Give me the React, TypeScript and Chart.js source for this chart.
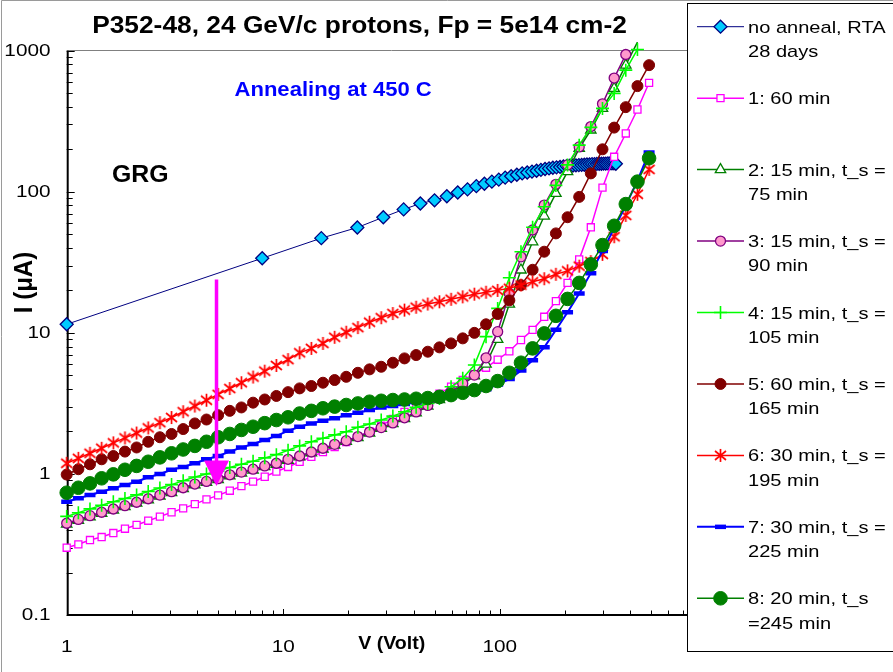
import React, { useEffect, useRef } from 'react';
import { Chart, registerables } from 'chart.js';
import { drawPoint } from 'chart.js/helpers';

Chart.register(...registerables);

const TITLE = 'P352-48, 24 GeV/c protons, Fp = 5e14 cm-2';
const X_TITLE = 'V (Volt)';
const Y_TITLE = 'I (\u03bcA)';
const NOTE_GRG = 'GRG';
const NOTE_ANNEAL = 'Annealing at 450 C';

const xTickValues = [1, 10, 100];
const xTickLabels = ['1', '10', '100'];
const yTickValues = [0.1, 1, 10, 100, 1000];
const yTickLabels = ['0.1', '1', '10', '100', '1000'];

// no anneal (linear voltage steps)
const vNoAnneal = [1, 8, 15, 22, 29, 36, 43, 50, 57, 64, 71, 78, 85, 92, 99, 106, 113, 120, 127, 134, 141, 148, 155, 162, 169, 176, 183, 190, 197, 204, 211, 218, 225, 232, 239, 246, 253, 260, 267, 274, 281, 288, 295, 302, 309, 316, 323, 330, 337, 344];
const iNoAnneal = [11.5, 33.8, 46.9, 55.8, 66, 75, 82.6, 87, 93, 98.8, 104, 109.6, 114, 118, 122, 126, 129, 132, 135, 137, 139, 141, 143, 145, 146.5, 148, 149, 150, 151, 152, 153, 153.5, 154, 154.5, 155, 155.5, 156, 156.5, 157, 157, 157.5, 158, 158, 158.5, 158.5, 159, 159, 159, 159, 158];

// annealed steps (log-spaced voltage sweep)
const vSweep = [1, 1.132, 1.281, 1.45, 1.642, 1.858, 2.103, 2.38, 2.694, 3.05, 3.451, 3.907, 4.422, 5.005, 5.666, 6.412, 7.258, 8.216, 9.299, 10.53, 11.91, 13.49, 15.26, 17.28, 19.55, 22.13, 25.05, 28.36, 32.1, 36.33, 41.11, 46.54, 52.68, 59.62, 67.49, 76.38, 86.47, 97.86, 110.8, 125.4, 141.9, 160.6, 181.8, 205.8, 232.9, 263.6, 298.4, 337.8, 382.3, 432.8, 489.8];

const i60min = [0.30, 0.317, 0.34, 0.357, 0.381, 0.409, 0.435, 0.466, 0.498, 0.535, 0.57, 0.611, 0.66, 0.705, 0.76, 0.82, 0.881, 0.955, 1.04, 1.12, 1.22, 1.32, 1.43, 1.55, 1.68, 1.83, 2.0, 2.2, 2.45, 2.75, 3.0, 3.3, 3.7, 4.15, 4.63, 5.1, 5.66, 6.45, 7.4, 8.9, 10.5, 13.0, 16.8, 22.6, 33.2, 56, 107, 177, 259, 383, 592];
const i75min = [0.44, 0.468, 0.497, 0.526, 0.555, 0.586, 0.62, 0.656, 0.697, 0.737, 0.786, 0.835, 0.871, 0.911, 0.971, 1.015, 1.065, 1.125, 1.17, 1.25, 1.32, 1.41, 1.5, 1.6, 1.7, 1.81, 1.95, 2.1, 2.27, 2.47, 2.71, 3.02, 3.37, 3.78, 4.3, 4.95, 6.0, 9.0, 16, 27.9, 44.2, 67.3, 97.4, 139, 203, 274, 390, 541, 790, 1150];
const i90min = [0.447, 0.476, 0.506, 0.535, 0.564, 0.596, 0.63, 0.667, 0.708, 0.748, 0.798, 0.848, 0.885, 0.925, 0.986, 1.03, 1.08, 1.14, 1.19, 1.27, 1.34, 1.43, 1.52, 1.62, 1.72, 1.84, 1.98, 2.13, 2.3, 2.5, 2.75, 3.06, 3.42, 3.83, 4.38, 5.02, 6.65, 10.2, 19, 34.6, 53.6, 80.5, 113, 155, 208, 290, 420, 640, 940];
const i105min = [0.50, 0.53, 0.565, 0.60, 0.635, 0.67, 0.71, 0.75, 0.795, 0.84, 0.895, 0.95, 1.0, 1.05, 1.11, 1.17, 1.23, 1.30, 1.37, 1.47, 1.58, 1.69, 1.79, 1.89, 1.99, 2.14, 2.26, 2.41, 2.57, 2.76, 2.97, 3.16, 3.43, 4.15, 4.76, 5.91, 9.4, 14.9, 24.6, 37.6, 56, 78.3, 111, 155, 214, 286, 390, 498, 728, 1020];
const i165min = [0.99, 1.08, 1.17, 1.27, 1.34, 1.44, 1.54, 1.69, 1.82, 1.92, 2.08, 2.28, 2.43, 2.61, 2.80, 2.96, 3.20, 3.37, 3.57, 3.80, 4.04, 4.20, 4.43, 4.63, 4.88, 5.21, 5.51, 5.75, 6.14, 6.59, 6.96, 7.35, 7.89, 8.42, 9.14, 10.0, 11.5, 13.6, 17.0, 21.8, 28.0, 37.6, 50.7, 66, 92, 135, 200, 285, 398, 561, 790];
const i195min = [1.19, 1.29, 1.40, 1.52, 1.66, 1.80, 1.95, 2.12, 2.31, 2.51, 2.76, 3.03, 3.33, 3.66, 4.03, 4.43, 4.86, 5.35, 5.87, 6.46, 7.22, 7.76, 8.42, 9.3, 10.1, 10.9, 11.9, 12.8, 13.7, 14.5, 15.2, 16.0, 16.6, 17.3, 18.0, 18.8, 19.4, 20.0, 20.7, 21.8, 23.0, 24.2, 26.0, 27.5, 29.7, 32, 36, 48, 68, 96, 144];
const i225min = [0.635, 0.671, 0.708, 0.748, 0.791, 0.834, 0.881, 0.946, 0.998, 1.07, 1.12, 1.19, 1.27, 1.34, 1.44, 1.54, 1.63, 1.74, 1.86, 2.02, 2.16, 2.28, 2.38, 2.48, 2.61, 2.71, 2.84, 2.96, 3.03, 3.13, 3.22, 3.32, 3.42, 3.5, 3.62, 3.78, 3.98, 4.3, 4.7, 5.4, 6.4, 7.9, 10.5, 14, 19, 26.5, 38, 55, 80, 120, 190];
const i245min = [0.736, 0.798, 0.857, 0.931, 0.993, 1.07, 1.14, 1.22, 1.31, 1.40, 1.49, 1.58, 1.69, 1.82, 1.92, 2.05, 2.16, 2.29, 2.41, 2.52, 2.68, 2.80, 2.92, 3.0, 3.08, 3.16, 3.25, 3.30, 3.34, 3.37, 3.41, 3.45, 3.52, 3.62, 3.76, 3.93, 4.2, 4.55, 5.21, 6.14, 7.76, 9.91, 13.2, 17.4, 22.6, 30.6, 41.9, 57.4, 81.8, 118, 173];

const legendLabels = [
  ['no anneal, RTA', '28 days'],
  ['1: 60 min'],
  ['2: 15 min, t_s =', '75 min'],
  ['3: 15 min, t_s =', '90 min'],
  ['4: 15 min, t_s =', '105 min'],
  ['5: 60 min, t_s =', '165 min'],
  ['6: 30 min, t_s =', '195 min'],
  ['7: 30 min, t_s =', '225 min'],
  ['8: 20 min, t_s', '=245 min'],
];

// arrow annotation (data coordinates)
const arrowV = 4.92;
const arrowFromI = 23.9;
const arrowToI = 0.82;

const FONT = '"Liberation Sans", Arial, Helvetica, sans-serif';

function drawText(ctx: CanvasRenderingContext2D, s: string, x: number, y: number, size: number, bold: boolean, color: string, align: CanvasTextAlign, sx: number) {
  ctx.save();
  ctx.translate(x, y);
  ctx.scale(sx, 1);
  ctx.font = `${bold ? 'bold ' : ''}${size}px ${FONT}`;
  ctx.fillStyle = color;
  ctx.textAlign = align;
  ctx.textBaseline = 'alphabetic';
  ctx.fillText(s, 0, 0);
  ctx.restore();
}

function makeStar(color: string) {
  const c = document.createElement('canvas');
  c.width = 15;
  c.height = 15;
  const g = c.getContext('2d')!;
  g.strokeStyle = color;
  g.lineWidth = 1.7;
  const m = 7.5;
  g.beginPath();
  g.moveTo(m, 1);
  g.lineTo(m, 14);
  g.moveTo(2, 3);
  g.lineTo(13, 12);
  g.moveTo(2, 12);
  g.lineTo(13, 3);
  g.stroke();
  return c;
}

export default function App() {
  const ref = useRef<HTMLCanvasElement>(null);

  useEffect(() => {
    const canvas = ref.current;
    if (!canvas) return;
    const star = makeStar('#FF0000');

    const series: any[] = [
      { xs: vNoAnneal, ys: iNoAnneal, line: '#000080', lw: 1, style: 'rectRot', r: 6.5, fill: '#00CCFF', border: '#000080', bw: 1.3 },
      { xs: vSweep, ys: i60min, line: '#FF00FF', lw: 1.5, style: 'rect', r: 5, fill: '#FFFFFF', border: '#FF00FF', bw: 1.3 },
      { xs: vSweep, ys: i75min, line: '#008000', lw: 1.5, style: 'triangle', r: 6, fill: '#FFFFFF', border: '#008000', bw: 1.3 },
      { xs: vSweep, ys: i90min, line: '#800080', lw: 1.5, style: 'circle', r: 5, fill: '#FF99CC', border: '#800080', bw: 1.3 },
      { xs: vSweep, ys: i105min, line: '#00FF00', lw: 1.5, style: 'cross', r: 6.5, fill: '#00FF00', border: '#00FF00', bw: 1.6 },
      { xs: vSweep, ys: i165min, line: '#800000', lw: 1.5, style: 'circle', r: 5.5, fill: '#800000', border: '#800000', bw: 1 },
      { xs: vSweep, ys: i195min, line: '#FF0000', lw: 1.5, style: star, r: 7, fill: '#FF0000', border: '#FF0000', bw: 1.5 },
      { xs: vSweep, ys: i225min, line: '#0000FF', lw: 2, style: 'line', r: 5.5, fill: '#0000FF', border: '#0000FF', bw: 4.5 },
      { xs: vSweep, ys: i245min, line: '#008000', lw: 1.5, style: 'circle', r: 6.8, fill: '#008000', border: '#008000', bw: 1 },
    ];

    const decor = {
      id: 'decor',
      beforeDatasetsDraw(chart: any) {
        const ctx: CanvasRenderingContext2D = chart.ctx;
        const a = chart.chartArea;
        const xs = chart.scales.x;
        const ys = chart.scales.y;
        ctx.save();
        ctx.strokeStyle = '#9a9a9a';
        ctx.lineWidth = 1;
        ctx.beginPath();
        ctx.moveTo(1.5, 672);
        ctx.lineTo(1.5, 0.5);
        ctx.lineTo(893, 0.5);
        ctx.stroke();
        ctx.strokeStyle = '#808080';
        ctx.beginPath();
        ctx.moveTo(a.left, 50.5);
        ctx.lineTo(a.right, 50.5);
        ctx.stroke();
        ctx.strokeStyle = '#000';
        ctx.lineWidth = 1;
        ctx.beginPath();
        for (let d = -1; d <= 2; d++) {
          for (let m = 1; m <= 9; m++) {
            const v = m * Math.pow(10, d);
            const y = Math.round(ys.getPixelForValue(v)) + 0.5;
            const len = m === 1 ? 7 : 5;
            ctx.moveTo(a.left, y);
            ctx.lineTo(a.left + 1 + len, y);
          }
        }
        {
          const y = Math.round(ys.getPixelForValue(1000)) + 0.5;
          ctx.moveTo(a.left, y);
          ctx.lineTo(a.left + 8, y);
        }
        for (let d = 0; d <= 2; d++) {
          for (let m = 1; m <= 9; m++) {
            const v = m * Math.pow(10, d);
            const x = Math.round(xs.getPixelForValue(v)) + 0.5;
            const len = m === 1 ? 6 : 4.5;
            ctx.moveTo(x, a.bottom);
            ctx.lineTo(x, a.bottom - len);
          }
        }
        ctx.stroke();
        ctx.lineWidth = 2;
        ctx.beginPath();
        ctx.moveTo(a.left + 1, a.top);
        ctx.lineTo(a.left + 1, a.bottom + 1);
        ctx.moveTo(a.left, a.bottom);
        ctx.lineTo(a.right, a.bottom);
        ctx.stroke();
        yTickValues.forEach((v, i) => {
          const y = ys.getPixelForValue(v);
          drawText(ctx, yTickLabels[i], 50.5, y + 5, 17, false, '#000', 'right', 1.22);
        });
        xTickValues.forEach((v, i) => {
          const x = xs.getPixelForValue(v);
          drawText(ctx, xTickLabels[i], x, 652, 17, false, '#000', 'center', 1.22);
        });
        drawText(ctx, TITLE, 359.5, 32.5, 23.5, true, '#000', 'center', 1.12);
        drawText(ctx, X_TITLE, 391.7, 648.5, 17.5, true, '#000', 'center', 1.12);
        ctx.save();
        ctx.translate(31.5, 282.5);
        ctx.scale(1.08, 1);
        ctx.rotate(-Math.PI / 2);
        ctx.font = `bold 24px ${FONT}`;
        ctx.fillStyle = '#000';
        ctx.textAlign = 'center';
        ctx.textBaseline = 'alphabetic';
        ctx.fillText(Y_TITLE, 0, 0);
        ctx.restore();
        drawText(ctx, NOTE_GRG, 112, 182, 23, true, '#000', 'left', 1.08);
        drawText(ctx, NOTE_ANNEAL, 234.5, 95.5, 21, true, '#0000FF', 'left', 1.05);
        ctx.restore();
      },
      afterDatasetsDraw(chart: any) {
        const ctx: CanvasRenderingContext2D = chart.ctx;
        const xs = chart.scales.x;
        const ys = chart.scales.y;
        const ax = xs.getPixelForValue(arrowV);
        const y1 = ys.getPixelForValue(arrowFromI);
        const y2 = ys.getPixelForValue(arrowToI);
        ctx.save();
        ctx.strokeStyle = '#FF00FF';
        ctx.lineWidth = 3.5;
        ctx.beginPath();
        ctx.moveTo(ax, y1);
        ctx.lineTo(ax, y2 - 22);
        ctx.stroke();
        ctx.fillStyle = '#FF00FF';
        ctx.beginPath();
        ctx.moveTo(ax - 12.5, y2 - 25.5);
        ctx.lineTo(ax + 12.5, y2 - 25.5);
        ctx.lineTo(ax, y2);
        ctx.closePath();
        ctx.fill();
        ctx.restore();
      },
      afterDraw(chart: any) {
        const ctx: CanvasRenderingContext2D = chart.ctx;
        ctx.save();
        ctx.fillStyle = '#FFFFFF';
        ctx.fillRect(687.5, 3.5, 220, 648);
        ctx.strokeStyle = '#000';
        ctx.lineWidth = 1;
        ctx.strokeRect(687.5, 3.5, 220, 648);
        series.forEach((s, i) => {
          const y = 26.7 + i * 71.45;
          ctx.strokeStyle = s.line;
          ctx.lineWidth = s.lw;
          ctx.beginPath();
          ctx.moveTo(697, y);
          ctx.lineTo(744, y);
          ctx.stroke();
          ctx.fillStyle = s.fill;
          ctx.strokeStyle = s.border;
          ctx.lineWidth = s.bw;
          drawPoint(ctx, { pointStyle: s.style, radius: s.r, borderWidth: s.bw, rotation: 0 } as any, 720.5, y);
          const lines = legendLabels[i];
          lines.forEach((t, j) => {
            drawText(ctx, t, 748, y + 6 + j * 24.3, 17, false, '#000', 'left', 1.18);
          });
        });
        ctx.restore();
      },
    };

    const chart = new Chart(canvas, {
      type: 'scatter',
      data: {
        datasets: series.map((s, i) => ({
          label: legendLabels[i].join(' '),
          data: s.ys.map((y: number, j: number) => ({ x: s.xs[j], y })),
          showLine: true,
          borderColor: s.line,
          borderWidth: s.lw,
          backgroundColor: s.fill,
          pointStyle: s.style,
          pointRadius: s.r,
          pointHoverRadius: s.r,
          pointBackgroundColor: s.fill,
          pointBorderColor: s.border,
          pointBorderWidth: s.bw,
          tension: 0,
          order: series.length - i,
          clip: { left: 10, top: 9, right: 10, bottom: 10 },
        })),
      },
      options: {
        responsive: false,
        animation: false,
        devicePixelRatio: 1,
        events: [],
        layout: { padding: { left: 66.7, top: 50.7, right: 176.8, bottom: 57 } },
        scales: {
          x: { type: 'logarithmic', min: 1, max: 1000, display: false },
          y: { type: 'logarithmic', min: 0.1, max: 1000, display: false },
        },
        plugins: {
          legend: { display: false },
          tooltip: { enabled: false },
          title: { display: false },
        },
      } as any,
      plugins: [decor],
    });
    return () => chart.destroy();
  }, []);

  return (
    <div style={{ position: 'absolute', left: 0, top: 0, width: 893, height: 672, background: '#fff' }}>
      <canvas ref={ref} width={893} height={672} style={{ display: 'block', width: 893, height: 672 }} />
    </div>
  );
}
